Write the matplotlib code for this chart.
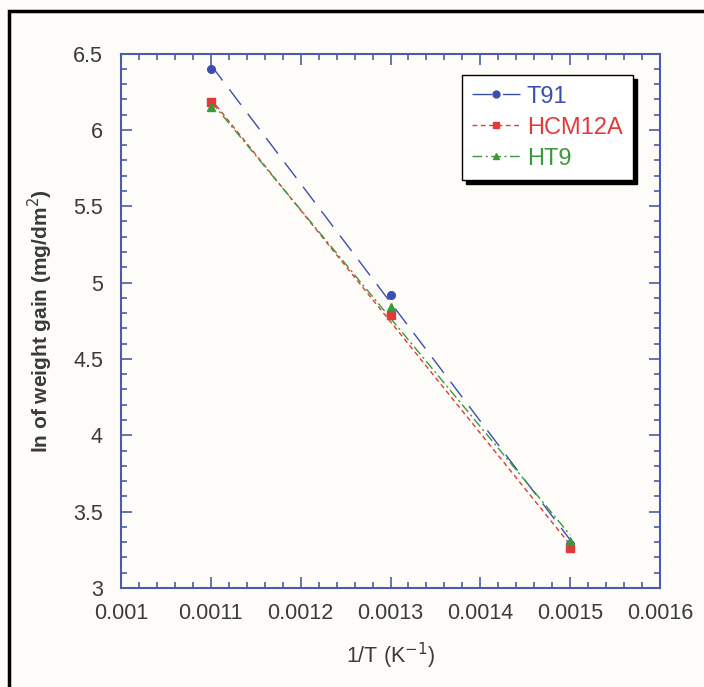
import numpy as np
import matplotlib.pyplot as plt
from matplotlib.ticker import AutoMinorLocator
from matplotlib.patches import Rectangle

plt.rcParams['font.family'] = ['Liberation Sans', 'DejaVu Sans']

# inverse temperature (1/K) and ln of weight gain for each alloy
inv_T = [0.0011, 0.0013, 0.0015]
t91 = [6.40, 4.92, 3.29]
hcm12a = [6.18, 4.79, 3.26]
ht9 = [6.15, 4.84, 3.31]

series = [
    ('T91', t91, '#3a4fb0', 'o', (0, (14, 8))),
    ('HCM12A', hcm12a, '#e23a3a', 's', (0, (3.5, 2.5))),
    ('HT9', ht9, '#3a9a3a', '^', (0, (7, 2.5, 1.5, 2.5))),
]

axis_blue = '#4b5ca8'
text_col = '#3a3a3a'

fig = plt.figure(figsize=(7.04, 6.87), dpi=100)
fig.patch.set_facecolor('#fdfcf8')

# black frame around the whole plot
fig.patches.append(Rectangle((9 / 704, -0.05), 1.2, (687 - 11) / 687 + 0.05,
                             transform=fig.transFigure, fill=False,
                             edgecolor='black', linewidth=2.5))

ax = fig.add_axes([0.1719, 0.1441, 0.7656, 0.778])
ax.set_facecolor('#fdfcf8')

x = np.array(inv_T)
for name, vals, col, mk, ls in series:
    # least squares line through the three points
    k, b = np.polyfit(x, vals, 1)
    ax.plot(x, k * x + b, color=col, linestyle=ls, linewidth=1.0, label=name,
            marker=mk, markersize=5, markevery=[], zorder=2)
    ax.plot(x, vals, linestyle='none', marker=mk, color=col, markersize=5.5, zorder=3)

ax.set_xlim(0.001, 0.0016)
ax.set_ylim(3, 6.5)
ax.xaxis.set_minor_locator(AutoMinorLocator(5))
ax.yaxis.set_minor_locator(AutoMinorLocator(5))
ax.set_xticks([0.001, 0.0011, 0.0012, 0.0013, 0.0014, 0.0015, 0.0016])
ax.set_xticklabels(['0.001', '0.0011', '0.0012', '0.0013', '0.0014', '0.0015', '0.0016'])
ax.set_yticks([3, 3.5, 4, 4.5, 5, 5.5, 6, 6.5])
ax.set_yticklabels(['3', '3.5', '4', '4.5', '5', '5.5', '6', '6.5'])

for sp in ax.spines.values():
    sp.set_color(axis_blue)
    sp.set_linewidth(1.5)
ax.tick_params(which='both', direction='in', top=True, right=True,
               color=axis_blue, width=1.2)
ax.tick_params(which='major', length=8, labelsize=15.5, labelcolor=text_col)
ax.tick_params(axis='x', which='major', pad=11)
ax.tick_params(axis='y', which='major', pad=13)
ax.tick_params(which='minor', length=4)

ax.set_xlabel('1/T (K$^{-1}$)', fontsize=15.5, color=text_col, labelpad=12)
ax.set_ylabel('ln of weight gain (mg/dm$^2$)', fontsize=15, fontweight='bold',
              color=text_col, labelpad=13)

leg = ax.legend(loc='upper right', bbox_to_anchor=(0.972, 0.982), fontsize=17,
                labelcolor='linecolor', fancybox=False, edgecolor='black',
                framealpha=1, handlelength=2.0, handletextpad=0.3,
                borderpad=0.45, labelspacing=0.38,
                shadow={'color': 'black', 'alpha': 1, 'ox': 4 / 100 * 72, 'oy': -4 / 100 * 72})
leg.get_frame().set_linewidth(1.0)
for h in leg.legend_handles:
    h.set_markevery([1])

fig.savefig('out.png', dpi=100, facecolor=fig.get_facecolor())
